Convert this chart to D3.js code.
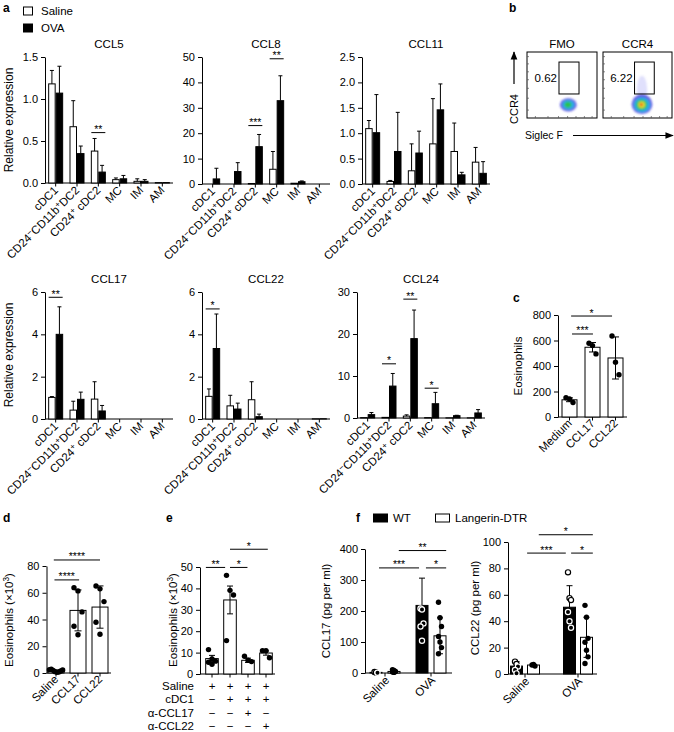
<!DOCTYPE html>
<html><head><meta charset="utf-8">
<script src="https://cdn.jsdelivr.net/npm/d3@7"></script>
<style>
body{margin:0;background:#fff}
svg{display:block}
</style></head><body>
<svg id="chart"></svg>
<script>
// ================= DATA =================
// Panel a
const cellTypes = ["cDC1", "CD24^−CD11b^+DC2", "CD24^+ cDC2", "MC", "IM", "AM"];
const exprSeries = ["Saline", "OVA"];
const ccl5Saline = [1.18, 0.67, 0.38, 0.04, 0.02, 0.005];
const ccl5SalineErr = [0.16, 0.31, 0.15, 0.02, 0.03, 0.0];
const ccl5Ova = [1.07, 0.35, 0.13, 0.05, 0.02, 0.005];
const ccl5OvaErr = [0.32, 0.09, 0.08, 0.04, 0.02, 0.0];
const ccl8Saline = [0, 0, 0.2, 5.8, 0.3, 0];
const ccl8SalineErr = [0, 0, 0, 7.0, 0, 0];
const ccl8Ova = [2.0, 4.9, 14.7, 32.8, 0.9, 0];
const ccl8OvaErr = [4.2, 3.5, 4.8, 9.8, 0.3, 0];
const ccl11Saline = [1.09, 0.05, 0.26, 0.79, 0.64, 0.43];
const ccl11SalineErr = [0.16, 0.02, 0.53, 0.89, 0.56, 0.29];
const ccl11Ova = [1.01, 0.64, 0.61, 1.46, 0.18, 0.21];
const ccl11OvaErr = [0.75, 0.77, 0.43, 0.51, 0.05, 0.23];
const ccl17Saline = [1.02, 0.42, 0.94, 0, 0, 0];
const ccl17SalineErr = [0.04, 0.42, 0.82, 0, 0, 0];
const ccl17Ova = [4.0, 0.93, 0.38, 0, 0, 0];
const ccl17OvaErr = [1.3, 0.34, 0.26, 0, 0, 0];
const ccl22Saline = [1.07, 0.62, 0.91, 0, 0, 0.01];
const ccl22SalineErr = [0.35, 0.5, 0.85, 0, 0, 0];
const ccl22Ova = [3.33, 0.47, 0.11, 0, 0, 0.01];
const ccl22OvaErr = [1.63, 0.28, 0.12, 0, 0, 0];
const ccl24Saline = [0.1, 0.15, 0.45, 0.1, 0.05, 0.05];
const ccl24SalineErr = [0, 0, 0.3, 0, 0, 0];
const ccl24Ova = [0.8, 7.6, 18.9, 3.4, 0.55, 1.2];
const ccl24OvaErr = [0.5, 3.0, 6.8, 2.7, 0.1, 0.8];
const exprTitles = ["CCL5", "CCL8", "CCL11", "CCL17", "CCL22", "CCL24"];
const exprMax = [1.5, 50, 2.5, 6, 6, 30];
const ccl5Ticks = [0, 0.5, 1.0, 1.5];
const ccl8Ticks = [0, 10, 20, 30, 40, 50];
const ccl11Ticks = [0, 0.5, 1.0, 1.5, 2.0, 2.5];
const ccl17Ticks = [0, 2, 4, 6];
const ccl22Ticks = [0, 2, 4, 6];
const ccl24Ticks = [0, 10, 20, 30];
// significance: [chart index, category index, value, label]
const exprSig = [[0, 2, 0.6, "**"], [1, 2, 23, "***"], [1, 3, 49.3, "**"],
                 [3, 0, 5.75, "**"], [4, 0, 5.2, "*"],
                 [5, 1, 12.9, "*"], [5, 2, 28.3, "**"], [5, 3, 7.1, "*"]];

// Panel b
const flowPlots = ["FMO", "CCR4"];
const flowGatePct = ["0.62", "6.22"];
const flowGate = [0.457, 0.743, 0.364, 0.848]; // Siglec F lo/hi, CCR4 lo/hi (axis fraction)
// density layers: [siglecF, ccr4, rx, ry, colour level]
const fmoDensity = [[0.59, 0.20, 0.12, 0.10, 0], [0.59, 0.20, 0.085, 0.07, 1], [0.585, 0.20, 0.05, 0.045, 2]];
const ccr4Density = [[0.565, 0.42, 0.075, 0.22, 5], [0.565, 0.21, 0.15, 0.15, 0], [0.565, 0.20, 0.115, 0.11, 1],
                     [0.56, 0.20, 0.08, 0.08, 2], [0.56, 0.20, 0.048, 0.05, 3], [0.555, 0.20, 0.022, 0.022, 4]];

// Panel c
const cLabels = ["Medium", "CCL17", "CCL22"];
const cMeans = [135, 547, 463];
const cSD = [15, 37, 165];
const cPoints = [[151, 141, 114], [579, 560, 495], [635, 430, 331]];
const cTicks = [0, 200, 400, 600, 800];
const cSig = [[0.11, 1.02, 651, "***"], [0.07, 1.85, 792, "*"]];

// Panel d
const dLabels = ["Saline", "CCL17", "CCL22"];
const dMeans = [1.3, 46.8, 49.3];
const dSD = [0.9, 15.3, 15.8];
const dPoints = [[2.5, 2.8, 2.0, 1.0, 0.5, 0.8, 1.5, 2.2], [63.8, 61.4, 45.7, 35.0, 28.6], [65, 62.9, 53.4, 38, 29]];
const dTicks = [0, 20, 40, 60, 80];
const dSig = [[-0.07, 1.05, 69.6, "****"], [-0.1, 2.0, 84.5, "****"]];

// Panel e
const eMeans = [7.2, 34.6, 6.4, 9.8];
const eSEM = [1.5, 6.5, 1.0, 1.0];
const ePoints = [[11.4, 7.0, 6.0, 5.5, 4.5], [46.1, 39.1, 36.9, 15.6], [8.3, 6.4, 5.8], [10.9, 10.9, 7.6]];
const eTicks = [0, 10, 20, 30, 40, 50];
const eRowLabels = ["Saline", "cDC1", "α-CCL17", "α-CCL22"];
const eRowSigns = [["+", "+", "+", "+"], ["−", "+", "+", "+"], ["−", "−", "+", "−"], ["−", "−", "−", "+"]];
const eSig = [[-0.34, 0.73, 49.8, "**"], [1.0, 1.97, 49.8, "*"], [1.0, 3.1, 58.3, "*"]];

// Panel f
const fGroups = ["Saline", "OVA"];
const fSeries = ["WT", "Langerin-DTR"];
const fCcl17WT = [2, 218];
const fCcl17WTSD = [0, 88];
const fCcl17WTPts = [[3, 2, 1], [208, 205, 160, 150, 104]];
const fCcl17LD = [5, 120];
const fCcl17LDSD = [4, 58];
const fCcl17LDPts = [[11, 8, 5, 3, 2], [228, 178, 150, 118, 100, 82, 62]];
const fCcl17Ticks = [0, 100, 200, 300, 400];
const fCcl17Sig = [[-0.13, 0.74, 339, "***"], [0.89, 1.33, 339, "*"], [0.3, 1.33, 395, "**"]];
const fCcl22WT = [6, 50.6];
const fCcl22WTSD = [3.5, 16.3];
const fCcl22WTPts = [[9.4, 7.6, 5.6, 3, 0.5], [77, 57.5, 56, 47, 40, 35]];
const fCcl22LD = [6.8, 27.8];
const fCcl22LDSD = [0.6, 15.2];
const fCcl22LDPts = [[6.8, 7.3, 6.0], [52, 43, 27, 24, 18, 13, 8]];
const fCcl22Ticks = [0, 20, 40, 60, 80, 100];
const fCcl22Sig = [[0.04, 0.77, 91.6, "***"], [0.87, 1.28, 91.6, "*"], [0.26, 1.28, 105.5, "*"]];

// ================= DRAWING =================
const FONT = '"Liberation Sans", Arial, Helvetica, sans-serif';
const TICKFS = 11, LABFS = 11.5, TITLEFS = 11.5;
const svg = d3.select('#chart').attr('width', 674).attr('height', 732).style('font-family', FONT);
svg.append('rect').attr('width', 674).attr('height', 732).attr('fill', '#fff');

function richText(sel, str) {
  let up = false;
  str.split(/(\^.)/).filter(s => s).forEach(p => {
    if (p[0] === '^') { sel.append('tspan').attr('dy', up ? 0 : -3.8).attr('font-size', '72%').text(p[1]); up = true; }
    else { sel.append('tspan').attr('dy', up ? 3.8 : 0).text(p); up = false; }
  });
  return sel;
}
function txt(x, y, s, o = {}) {
  const t = svg.append('text').attr('x', x).attr('y', y).attr('font-size', o.fs || TICKFS)
    .attr('text-anchor', o.anchor || 'start').attr('fill', '#000');
  if (o.bold) t.attr('font-weight', 'bold');
  richText(t, s);
  return t;
}
function panelLetter(x, y, s) { txt(x, y, s, {fs: 12, bold: true}); }
function yAxis(x0, y, ticks, fmt) {
  const g = svg.append('g').attr('transform', `translate(${x0},0)`)
    .call(d3.axisLeft(y).tickValues(ticks).tickSize(4).tickSizeOuter(0).tickFormat(fmt || d3.format('d')));
  g.attr('font-family', FONT).attr('font-size', TICKFS);
  g.selectAll('text').attr('fill', '#000');
  g.selectAll('path,line').attr('stroke', '#000').attr('stroke-width', 1);
  return g;
}
function xAxisLine(x1, x2, y, centers) {
  svg.append('line').attr('x1', x1).attr('x2', x2).attr('y1', y).attr('y2', y).attr('stroke', '#000');
  centers.forEach(c => svg.append('line').attr('x1', c).attr('x2', c).attr('y1', y).attr('y2', y + 3.5).attr('stroke', '#000'));
}
function rotLabel(x, y, s, fs) {
  const t = svg.append('text').attr('font-size', fs || LABFS).attr('text-anchor', 'end').attr('fill', '#000')
    .attr('transform', `translate(${x},${y}) rotate(-45)`).attr('dy', '0.35em');
  richText(t, s);
}
function yLabel(x, y, s, fs) {
  const t = svg.append('text').attr('font-size', fs || 11.5).attr('text-anchor', 'middle').attr('fill', '#000')
    .attr('transform', `translate(${x},${y}) rotate(-90)`);
  richText(t, s);
}
function sigLine(xa, xb, yy, label) {
  svg.append('line').attr('x1', xa).attr('x2', xb).attr('y1', yy).attr('y2', yy).attr('stroke', '#000').attr('stroke-width', 1);
  svg.append('text').attr('x', (xa + xb) / 2).attr('y', yy + 0.5).attr('text-anchor', 'middle')
    .attr('font-size', 10.5).attr('fill', '#000').text(label);
}
function errBar(x, y1, y2, cap) {
  svg.append('line').attr('x1', x).attr('x2', x).attr('y1', y1).attr('y2', y2).attr('stroke', '#000');
  svg.append('line').attr('x1', x - cap / 2).attr('x2', x + cap / 2).attr('y1', y2).attr('y2', y2).attr('stroke', '#000');
}
function bar(x, w, y0, y1, black) {
  svg.append('rect').attr('x', x).attr('y', Math.min(y0, y1)).attr('width', w).attr('height', Math.abs(y0 - y1))
    .attr('fill', black ? '#000' : '#fff').attr('stroke', '#000').attr('stroke-width', 1);
}
function dot(x, y, open, onBlack) {
  if (open) svg.append('circle').attr('cx', x).attr('cy', y).attr('r', 2.6).attr('fill', onBlack ? '#000' : '#fff')
    .attr('stroke', onBlack ? '#fff' : '#000').attr('stroke-width', 1.2);
  else svg.append('circle').attr('cx', x).attr('cy', y).attr('r', 2.7).attr('fill', '#000');
}
function jitter(i, n, s) { return n <= 1 ? 0 : ((i % 3) - 1) * s; }

// ---------- Panel a ----------
panelLetter(3, 12, 'a');
[[exprSeries[0], false, 15], [exprSeries[1], true, 32]].forEach(([name, blk, yb]) => {
  svg.append('rect').attr('x', 23.5).attr('y', yb - 8).attr('width', 9).attr('height', 8)
    .attr('fill', blk ? '#000' : '#fff').attr('stroke', '#000');
  txt(41, yb, name, {fs: 11.5});
});
const exprData = [
  [ccl5Saline, ccl5SalineErr, ccl5Ova, ccl5OvaErr, ccl5Ticks, '.1f'],
  [ccl8Saline, ccl8SalineErr, ccl8Ova, ccl8OvaErr, ccl8Ticks, 'd'],
  [ccl11Saline, ccl11SalineErr, ccl11Ova, ccl11OvaErr, ccl11Ticks, '.1f'],
  [ccl17Saline, ccl17SalineErr, ccl17Ova, ccl17OvaErr, ccl17Ticks, 'd'],
  [ccl22Saline, ccl22SalineErr, ccl22Ova, ccl22OvaErr, ccl22Ticks, 'd'],
  [ccl24Saline, ccl24SalineErr, ccl24Ova, ccl24OvaErr, ccl24Ticks, 'd']];
const exprLayout = [[45, 57, 183], [202, 57, 184], [362, 57, 184], [45, 292, 419], [202, 292, 419], [357, 292, 418]];
const exprX = [], exprY = [];
exprData.forEach((d, k) => {
  const [x0, yT, yB] = exprLayout[k];
  const x = d3.scaleBand().domain(d3.range(cellTypes.length)).range([x0, x0 + 128]);
  const y = d3.scaleLinear().domain([0, exprMax[k]]).range([yB, yT]);
  exprX.push(x); exprY.push(y);
  yAxis(x0, y, d[4], d3.format(d[5]));
  const centers = cellTypes.map((c, i) => x(i) + x.bandwidth() / 2);
  xAxisLine(x0, x0 + 128, yB, centers);
  txt(x0 + 64, yT - 9, exprTitles[k], {fs: TITLEFS, anchor: 'middle'});
  centers.forEach((cx, i) => {
    const bw = 6.5;
    bar(cx - 7, bw, y(0), y(d[0][i]), false);
    bar(cx + 0.5, bw, y(0), y(d[2][i]), true);
    if (d[1][i] > 0) errBar(cx - 7 + bw / 2, y(d[0][i]), y(d[0][i] + d[1][i]), 4);
    if (d[3][i] > 0) errBar(cx + 0.5 + bw / 2, y(d[2][i]), y(d[2][i] + d[3][i]), 4);
    rotLabel(cx + 3, yB + 8, cellTypes[i]);
  });
});
exprSig.forEach(([k, i, v, lab]) => {
  const cx = exprX[k](i) + exprX[k].bandwidth() / 2;
  sigLine(cx - 7, cx + 7, exprY[k](v), lab);
});
yLabel(13, 120, 'Relative expression', 12);
yLabel(13, 355, 'Relative expression', 12);

// ---------- Panel b ----------
panelLetter(509, 12, 'b');
const defs = svg.append('defs');
defs.append('filter').attr('id', 'blur').attr('x', '-50%').attr('y', '-50%').attr('width', '200%').attr('height', '200%')
  .append('feGaussianBlur').attr('stdDeviation', 1.3);
const densColors = ['#3a3adf', '#22b8e8', '#2bc24a', '#e8e030', '#e8301e', '#7070f0'];
const densOpac = [0.8, 0.9, 0.95, 1, 1, 0.22];
[[527, 597, fmoDensity], [603, 672, ccr4Density]].forEach(([bx0, bx1, dens], k) => {
  const fx = d3.scaleLinear().domain([0, 1]).range([bx0, bx1]);
  const fy = d3.scaleLinear().domain([0, 1]).range([118, 52]);
  const blobs = svg.append('g').attr('filter', 'url(#blur)');
  dens.forEach(([sx, sy, rx, ry, lvl]) => {
    blobs.append('ellipse').attr('cx', fx(sx)).attr('cy', fy(sy))
      .attr('rx', fx(rx) - fx(0)).attr('ry', fy(0) - fy(ry))
      .attr('fill', densColors[lvl]).attr('opacity', densOpac[lvl]);
  });
  svg.append('rect').attr('x', bx0).attr('y', 52).attr('width', bx1 - bx0).attr('height', 66)
    .attr('fill', 'none').attr('stroke', '#000').attr('stroke-width', 1);
  [0.12, 0.3, 0.45, 0.58, 0.7, 0.82, 0.93].forEach(t => {
    svg.append('line').attr('x1', bx0).attr('x2', bx0 + 2).attr('y1', fy(t)).attr('y2', fy(t)).attr('stroke', '#555').attr('stroke-width', 0.7);
    svg.append('line').attr('x1', fx(t)).attr('x2', fx(t)).attr('y1', 118).attr('y2', 116).attr('stroke', '#555').attr('stroke-width', 0.7);
  });
  svg.append('rect').attr('x', fx(flowGate[0])).attr('y', fy(flowGate[3]))
    .attr('width', fx(flowGate[1]) - fx(flowGate[0])).attr('height', fy(flowGate[2]) - fy(flowGate[3]))
    .attr('fill', 'none').attr('stroke', '#000').attr('stroke-width', 1);
  txt(fx(flowGate[0]) - 2, (fy(flowGate[2]) + fy(flowGate[3])) / 2 + 4, flowGatePct[k], {fs: 11.5, anchor: 'end'});
  txt((bx0 + bx1) / 2, 48, flowPlots[k], {fs: 11.5, anchor: 'middle'});
});
svg.append('defs').append('marker').attr('id', 'arr').attr('viewBox', '0 0 10 10').attr('refX', 9).attr('refY', 5)
  .attr('markerWidth', 7).attr('markerHeight', 7).attr('orient', 'auto')
  .append('path').attr('d', 'M0,1 L10,5 L0,9 Z').attr('fill', '#000');
svg.append('line').attr('x1', 514).attr('x2', 514).attr('y1', 84).attr('y2', 52).attr('stroke', '#000').attr('stroke-width', 1.2).attr('marker-end', 'url(#arr)');
yLabel(518, 109, 'CCR4', 11);
txt(525, 139, 'Siglec F', {fs: 10.5});
svg.append('line').attr('x1', 573).attr('x2', 673).attr('y1', 135.5).attr('y2', 135.5).attr('stroke', '#000').attr('stroke-width', 1.2).attr('marker-end', 'url(#arr)');

// ---------- generic dot/bar chart ----------
function dotBarChart(o) {
  const x = d3.scaleBand().domain(d3.range(o.n)).range(o.xr);
  const y = d3.scaleLinear().domain(o.ydom).range(o.yr);
  yAxis(o.axisX, y, o.ticks);
  const centers = d3.range(o.n).map(i => x(i) + x.bandwidth() / 2);
  xAxisLine(o.axisX, o.axisEnd, o.yr[0], centers);
  return {x, y, centers, step: x.step()};
}

// ---------- Panel c ----------
panelLetter(513, 302, 'c');
{
  const ch = dotBarChart({n: 3, xr: [558, 627], ydom: [0, 800], yr: [417, 315], ticks: cTicks, axisX: 558, axisEnd: 627});
  ch.centers.forEach((cx, i) => {
    bar(cx - 7.5, 15, ch.y(0), ch.y(cMeans[i]), false);
    errBar(cx, ch.y(cMeans[i]), ch.y(cMeans[i] + cSD[i]), 7);
    errBar(cx, ch.y(cMeans[i]), ch.y(Math.max(0, cMeans[i] - cSD[i])), 7);
    cPoints[i].forEach((v, j) => dot(cx + jitter(j, 3, 3.5), ch.y(v), false));
    rotLabel(cx + 3, 424, cLabels[i], 11.5);
  });
  cSig.forEach(([a, b, v, lab]) => sigLine(ch.centers[0] + a * ch.step, ch.centers[0] + b * ch.step, ch.y(v), lab));
  yLabel(522, 366, 'Eosinophils', 11.5);
}

// ---------- Panel d ----------
panelLetter(3, 522, 'd');
{
  const ch = dotBarChart({n: 3, xr: [45, 111], ydom: [0, 80], yr: [673, 566], ticks: dTicks, axisX: 46.5, axisEnd: 111});
  ch.centers.forEach((cx, i) => {
    bar(cx - 8, 16, ch.y(0), ch.y(dMeans[i]), false);
    errBar(cx, ch.y(dMeans[i]), ch.y(dMeans[i] + dSD[i]), 7);
    errBar(cx, ch.y(dMeans[i]), ch.y(Math.max(0, dMeans[i] - dSD[i])), 7);
    const pts = dPoints[i];
    pts.forEach((v, j) => dot(cx + (pts.length > 5 ? (j - (pts.length - 1) / 2) * 1.9 : jitter(j, pts.length, 4)), ch.y(v), false));
    rotLabel(cx + 3, 680, dLabels[i], 11.5);
  });
  dSig.forEach(([a, b, v, lab]) => sigLine(ch.centers[0] + a * ch.step, ch.centers[0] + b * ch.step, ch.y(v), lab));
  yLabel(13, 620, 'Eosinophils (×10^3)', 11.5);
}

// ---------- Panel e ----------
panelLetter(166, 522, 'e');
{
  const ch = dotBarChart({n: 4, xr: [203, 275], ydom: [0, 50], yr: [674, 567], ticks: eTicks, axisX: 200, axisEnd: 275});
  ch.centers.forEach((cx, i) => {
    bar(cx - 6.3, 12.6, ch.y(0), ch.y(eMeans[i]), false);
    errBar(cx, ch.y(eMeans[i]), ch.y(eMeans[i] + eSEM[i]), 6);
    errBar(cx, ch.y(eMeans[i]), ch.y(eMeans[i] - eSEM[i]), 6);
    ePoints[i].forEach((v, j) => dot(cx + jitter(j, ePoints[i].length, 3.5), ch.y(v), false));
    eRowSigns.forEach((row, r) => txt(cx, 690 + r * 13.3, row[i], {fs: 11.5, anchor: 'middle'}));
  });
  eRowLabels.forEach((s, r) => txt(194, 690 + r * 13.3, s, {fs: 11.5, anchor: 'end'}));
  eSig.forEach(([a, b, v, lab]) => sigLine(ch.centers[0] + a * ch.step, ch.centers[0] + b * ch.step, ch.y(v), lab));
  yLabel(177, 620, 'Eosinophils (×10^3)', 11.5);
}

// ---------- Panel f ----------
panelLetter(356, 522, 'f');
svg.append('rect').attr('x', 373.5).attr('y', 514).attr('width', 14).attr('height', 8).attr('fill', '#000').attr('stroke', '#000');
txt(393, 522, fSeries[0], {fs: 11.5});
svg.append('rect').attr('x', 435.5).attr('y', 514).attr('width', 14).attr('height', 8).attr('fill', '#fff').attr('stroke', '#000');
txt(455, 522, fSeries[1], {fs: 11.5});
function fChart(o) {
  const ch = dotBarChart({n: 2, xr: o.xr, ydom: [0, o.max], yr: o.yr, ticks: o.ticks, axisX: o.axisX, axisEnd: o.axisEnd});
  ch.centers.forEach((cx, i) => {
    const xw = cx - o.off, xl = cx + o.off, bw = 12;
    bar(xw - bw / 2, bw, ch.y(0), ch.y(o.wt[i]), true);
    bar(xl - bw / 2, bw, ch.y(0), ch.y(o.ld[i]), false);
    if (o.wtSD[i] > 0) errBar(xw, ch.y(o.wt[i]), ch.y(o.wt[i] + o.wtSD[i]), 6);
    if (o.ldSD[i] > 0) {
      errBar(xl, ch.y(o.ld[i]), ch.y(o.ld[i] + o.ldSD[i]), 6);
      errBar(xl, ch.y(o.ld[i]), ch.y(Math.max(0, o.ld[i] - o.ldSD[i])), 6);
    }
    o.wtPts[i].forEach((v, j) => dot(xw + jitter(j, o.wtPts[i].length, 1.5), ch.y(v), true, v < o.wt[i]));
    o.ldPts[i].forEach((v, j) => dot(xl + jitter(j, o.ldPts[i].length, 1.5), ch.y(v), false));
    rotLabel(cx + 5, o.yr[0] + 8, fGroups[i], 11.5);
  });
  o.sig.forEach(([a, b, v, lab]) => sigLine(ch.centers[0] + a * ch.step, ch.centers[0] + b * ch.step, ch.y(v), lab));
}
fChart({xr: [362, 454], yr: [673, 549], max: 400, ticks: fCcl17Ticks, axisX: 365, axisEnd: 452, off: 9,
  wt: fCcl17WT, wtSD: fCcl17WTSD, wtPts: fCcl17WTPts, ld: fCcl17LD, ldSD: fCcl17LDSD, ldPts: fCcl17LDPts, sig: fCcl17Sig});
yLabel(330, 611, 'CCL17 (pg per ml)', 11.5);
fChart({xr: [498.5, 604.5], yr: [674, 542], max: 100, ticks: fCcl22Ticks, axisX: 508, axisEnd: 597, off: 8.5,
  wt: fCcl22WT, wtSD: fCcl22WTSD, wtPts: fCcl22WTPts, ld: fCcl22LD, ldSD: fCcl22LDSD, ldPts: fCcl22LDPts, sig: fCcl22Sig});
yLabel(479, 608, 'CCL22 (pg per ml)', 11.5);
</script>
</body></html>
